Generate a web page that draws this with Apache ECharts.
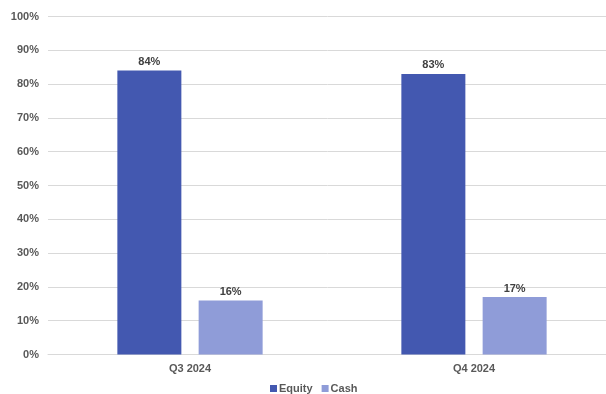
<!DOCTYPE html>
<html><head><meta charset="utf-8">
<script src="https://cdn.jsdelivr.net/npm/echarts@6/dist/echarts.min.js"></script>
<style>html,body{margin:0;padding:0;background:#fff}#c{width:606px;height:394px}</style>
</head><body><div id="c"></div>
<script>
const categories = ['Q3 2024', 'Q4 2024'];
const equity = [84, 83];
const cash = [16, 17];
const yTicks = [0, 10, 20, 30, 40, 50, 60, 70, 80, 90, 100];

const chart = echarts.init(document.getElementById('c'));
const font = 'Liberation Sans, Arial, sans-serif';
const lbl = {show: true, position: 'top', formatter: p => p.value + '%', color: '#404040', fontFamily: font, fontSize: 11, fontWeight: 'bold', distance: 3};
chart.setOption({
  animation: false,
  grid: {left: 48, top: 16.5, width: 568, height: 338, containLabel: false, outerBoundsMode: 'none'},
  legend: {top: 383, left: 270, padding: 0, itemWidth: 7, itemHeight: 7, itemGap: 9, icon: 'rect',
    textStyle: {color: '#595959', fontFamily: font, fontSize: 11, fontWeight: 'bold', padding: [0,0,0,-3]},
    data: ['Equity', 'Cash']},
  xAxis: {type: 'category', data: categories,
    axisLine: {lineStyle: {color: '#d9d9d9'}}, axisTick: {show: false},
    axisLabel: {color: '#595959', fontFamily: font, fontSize: 11, fontWeight: 'bold', margin: 9}},
  yAxis: {type: 'value', min: yTicks[0], max: yTicks[yTicks.length-1], interval: 10,
    axisLine: {show: false}, axisTick: {show: false},
    splitLine: {lineStyle: {color: '#d9d9d9'}},
    axisLabel: {formatter: v => v + '%', color: '#595959', fontFamily: font, fontSize: 11, fontWeight: 'bold', margin: 9}},
  series: [
    {name: 'Equity', type: 'bar', data: equity, barWidth: 64, barGap: '27%', itemStyle: {color: '#4358B0'}, label: lbl},
    {name: 'Cash', type: 'bar', data: cash, barWidth: 64, itemStyle: {color: '#8F9CD8'}, label: lbl}
  ]
});
</script></body></html>
